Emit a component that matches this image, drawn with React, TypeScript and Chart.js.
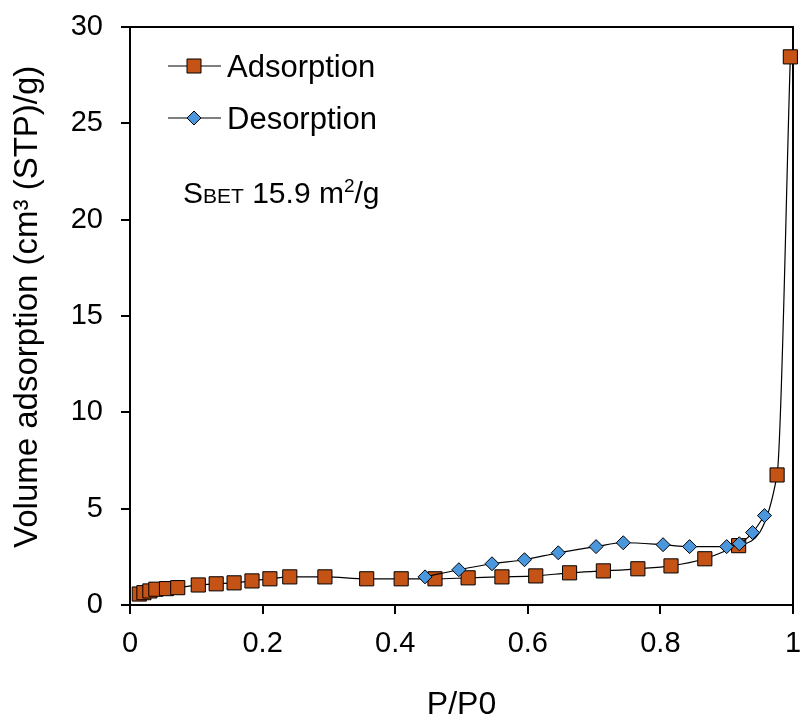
import React, { useEffect, useRef } from 'react';
import { Chart, registerables } from 'chart.js';
Chart.register(...registerables);

const adsorptionX = [0.014, 0.021, 0.030, 0.039, 0.055, 0.072, 0.103, 0.130, 0.157, 0.184, 0.211, 0.241, 0.294, 0.357, 0.409, 0.460, 0.510, 0.561, 0.612, 0.663, 0.714, 0.766, 0.816, 0.867, 0.918, 0.976, 0.996];
const adsorptionY = [0.57, 0.64, 0.73, 0.82, 0.85, 0.90, 1.04, 1.10, 1.15, 1.25, 1.36, 1.46, 1.46, 1.36, 1.36, 1.36, 1.41, 1.46, 1.51, 1.67, 1.77, 1.88, 2.03, 2.40, 3.08, 6.75, 28.45];
const desorptionX = [0.957, 0.939, 0.919, 0.900, 0.844, 0.804, 0.744, 0.703, 0.646, 0.595, 0.546, 0.496, 0.445];
const desorptionY = [4.64, 3.76, 3.18, 3.03, 3.03, 3.13, 3.23, 3.03, 2.71, 2.35, 2.14, 1.83, 1.46];

const xTicks = [0, 0.2, 0.4, 0.6, 0.8, 1];
const yTicks = [0, 5, 10, 15, 20, 25, 30];

const seriesNames = ['Adsorption', 'Desorption'];
const betLabel = { main: 'S', sub: 'BET', value: ' 15.9 m', sup: '2', unit: '/g' };

const FONT = '"Liberation Sans", Arial, sans-serif';
const ADS_COLOR = '#C55316';
const DES_COLOR = '#4A97DE';

const boxPlugin = {
  id: 'boxPlugin',
  beforeDatasetsDraw(chart: any) {
    const { ctx, chartArea } = chart;
    ctx.save();
    ctx.strokeStyle = '#000';
    ctx.lineWidth = 2;
    ctx.strokeRect(chartArea.left, chartArea.top, chartArea.right - chartArea.left, chartArea.bottom - chartArea.top);
    ctx.restore();
  },
  afterDraw(chart: any) {
    const ctx = chart.ctx;
    ctx.save();
    ctx.fillStyle = '#000';
    ctx.font = `31px ${FONT}`;
    ctx.textBaseline = 'middle';
    ctx.textAlign = 'left';
    const rows = [
      { y: 66, name: seriesNames[0], style: 'rect', color: ADS_COLOR },
      { y: 118, name: seriesNames[1], style: 'diamond', color: DES_COLOR },
    ];
    rows.forEach((r) => {
      ctx.strokeStyle = '#000';
      ctx.lineWidth = 1.2;
      ctx.beginPath();
      ctx.moveTo(168, r.y);
      ctx.lineTo(221, r.y);
      ctx.stroke();
      ctx.fillStyle = r.color;
      ctx.lineWidth = 1;
      ctx.beginPath();
      if (r.style === 'rect') {
        ctx.rect(194 - 7, r.y - 7, 14, 14);
      } else {
        ctx.moveTo(194, r.y - 7);
        ctx.lineTo(201, r.y);
        ctx.lineTo(194, r.y + 7);
        ctx.lineTo(187, r.y);
        ctx.closePath();
      }
      ctx.fill();
      ctx.stroke();
      ctx.fillStyle = '#000';
      ctx.font = `31px ${FONT}`;
      ctx.fillText(r.name, 227, r.y + 2);
    });
    // S_BET annotation
    ctx.textBaseline = 'alphabetic';
    let x = 183;
    const base = 203;
    ctx.font = `30px ${FONT}`;
    ctx.fillText(betLabel.main, x, base);
    x += ctx.measureText(betLabel.main).width;
    ctx.font = `21px ${FONT}`;
    ctx.fillText(betLabel.sub, x, base);
    x += ctx.measureText(betLabel.sub).width;
    ctx.font = `30px ${FONT}`;
    ctx.fillText(betLabel.value, x, base);
    x += ctx.measureText(betLabel.value).width;
    ctx.font = `19px ${FONT}`;
    ctx.fillText(betLabel.sup, x, base - 11);
    x += ctx.measureText(betLabel.sup).width;
    ctx.font = `30px ${FONT}`;
    ctx.fillText(betLabel.unit, x, base);
    ctx.restore();
  },
};

export default function App() {
  const ref = useRef<HTMLCanvasElement>(null);
  useEffect(() => {
    document.body.style.margin = '0';
    const canvas = ref.current!;
    const chart = new Chart(canvas, {
      type: 'scatter',
      data: {
        datasets: [
          {
            label: seriesNames[1],
            data: desorptionX.map((x, i) => ({ x, y: desorptionY[i] })),
            showLine: true,
            borderColor: '#000',
            borderWidth: 1.2,
            cubicInterpolationMode: 'monotone',
            pointStyle: 'rectRot',
            pointRadius: 7,
            pointHoverRadius: 7,
            pointBackgroundColor: DES_COLOR,
            pointBorderColor: '#000',
            pointBorderWidth: 1,
            clip: false,
          } as any,
          {
            label: seriesNames[0],
            data: adsorptionX.map((x, i) => ({ x, y: adsorptionY[i] })),
            showLine: true,
            borderColor: '#000',
            borderWidth: 1.2,
            cubicInterpolationMode: 'monotone',
            pointStyle: 'rect',
            pointRadius: 10,
            pointHoverRadius: 10,
            pointBackgroundColor: ADS_COLOR,
            pointBorderColor: '#000',
            pointBorderWidth: 1,
            clip: false,
          } as any,
        ],
      },
      options: {
        animation: false,
        responsive: false,
        maintainAspectRatio: false,
        layout: { padding: { left: 0, top: 27, right: 7, bottom: 0 } },
        plugins: { legend: { display: false }, tooltip: { enabled: false } },
        scales: {
          x: {
            type: 'linear',
            min: 0,
            max: 1,
            afterBuildTicks: (s: any) => { s.ticks = xTicks.map((v) => ({ value: v })); },
            afterFit: (s: any) => { s.height = 119; s.paddingLeft = 0; s.paddingRight = 0; },
            ticks: {
              font: { family: FONT, size: 29 },
              color: '#000',
              padding: 13,
              callback: (v: any) => String(v),
              maxRotation: 0,
            },
            grid: { drawOnChartArea: false, drawTicks: true, tickLength: 9, color: '#000', tickColor: '#000', lineWidth: 2 },
            border: { display: true, color: '#000', width: 2 },
            title: { display: true, text: 'P/P0', font: { family: FONT, size: 32 }, color: '#000', padding: { bottom: 0, top: 0 } },
          },
          y: {
            type: 'linear',
            min: 0,
            max: 30,
            afterBuildTicks: (s: any) => { s.ticks = yTicks.map((v) => ({ value: v })); },
            afterFit: (s: any) => { s.width = 130; s.paddingTop = 0; s.paddingBottom = 0; },
            ticks: {
              font: { family: FONT, size: 29 },
              color: '#000',
              padding: 18,
              callback: (v: any) => String(v),
            },
            grid: { drawOnChartArea: false, drawTicks: true, tickLength: 9, color: '#000', tickColor: '#000', lineWidth: 2 },
            border: { display: true, color: '#000', width: 2 },
            title: { display: true, text: '  Volume adsorption (cm³ (STP)/g)', font: { family: FONT, size: 33 }, color: '#000', padding: { top: 8, bottom: 0 } },
          },
        },
      },
      plugins: [boxPlugin],
    });
    return () => chart.destroy();
  }, []);
  return (
    <div style={{ width: 804, height: 724 }}>
      <canvas ref={ref} width={804} height={724} style={{ width: 804, height: 724, display: 'block' }} />
    </div>
  );
}
